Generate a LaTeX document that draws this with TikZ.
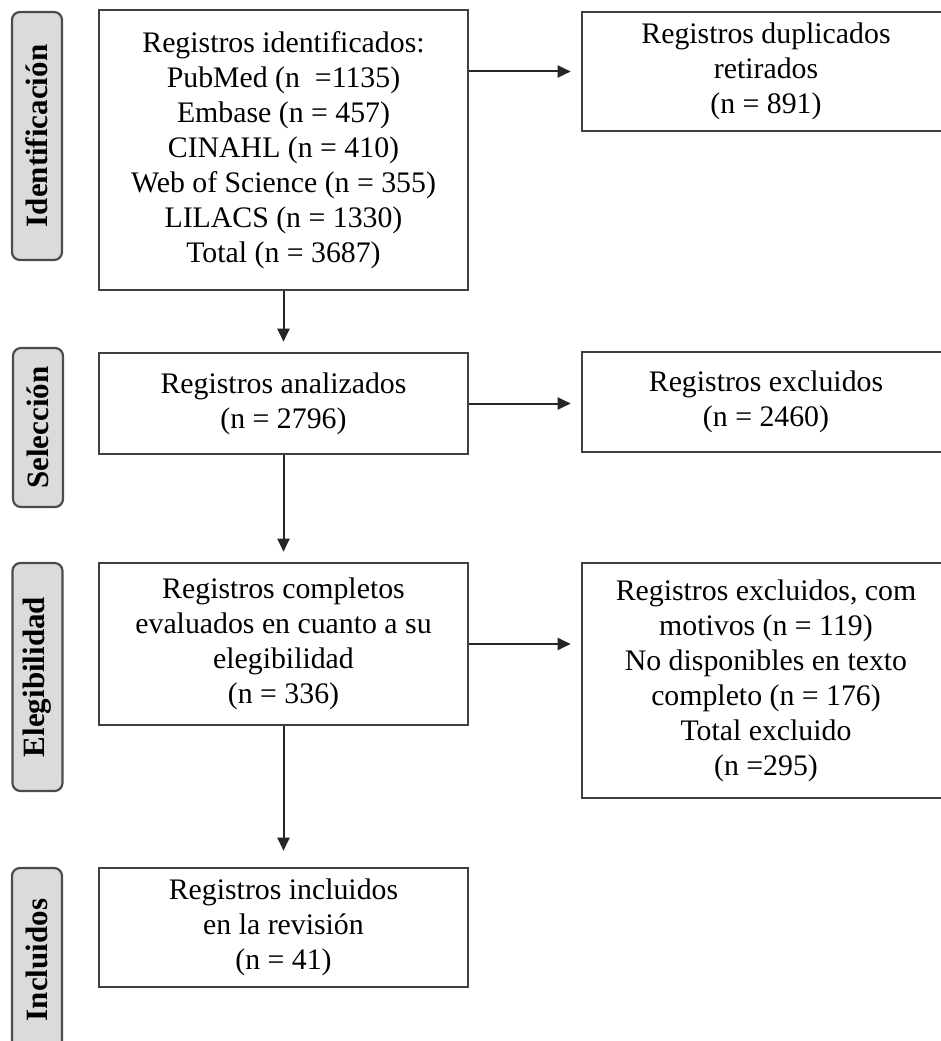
\documentclass[tikz,border=0pt]{standalone}
\usepackage{fontspec}
\setmainfont{Liberation Serif}
\usetikzlibrary{arrows.meta}

\begin{document}
\begin{tikzpicture}[x=1pt, y=-1pt, >={Triangle[length=13pt,width=12pt]},
  caja/.style={draw=black!75, line width=2.6pt, fill=white, inner sep=0pt, align=center, font=\fontsize{29.8}{35}\selectfont},
  fase/.style={draw=black!70, line width=2.2pt, fill=black!14, rounded corners=8pt, rotate=90, minimum height=50pt, inner sep=0pt, font=\fontsize{31}{34}\selectfont\bfseries},
  flecha/.style={->, line width=2pt, draw=black!85, shorten >=10pt}]

\useasboundingbox (0,0) rectangle (941,1041);
\clip (0,0) rectangle (941,1041);

% fases
\node[fase, minimum width=248pt] (fIdent) at (37,136) {Identificación};
\node[fase, minimum width=159pt] (fSel) at (38,427.5) {Selección};
\node[fase, minimum width=228pt] (fEleg) at (37.5,677) {Elegibilidad};
\node[fase, minimum width=184pt] (fIncl) at (37,960) {Incluidos};

% cajas izquierda
\node[caja, minimum width=369pt, minimum height=280pt] (ident) at (283.5,150) {Registros identificados:\\PubMed (n~~=1135)\\Embase (n = 457)\\CINAHL (n = 410)\\Web of Science (n = 355)\\LILACS (n = 1330)\\Total (n = 3687)};
\node[caja, minimum width=369pt, minimum height=101pt] (analiz) at (283.5,403.5) {Registros analizados\\(n = 2796)};
\node[caja, minimum width=369pt, minimum height=162pt] (complet) at (283.5,644) {Registros completos\\evaluados en cuanto a su\\elegibilidad\\(n = 336)};
\node[caja, minimum width=369pt, minimum height=119pt] (incl) at (283.5,927.5) {Registros incluidos\\en la revisión\\(n = 41)};

% cajas derecha
\node[caja, minimum width=368pt, minimum height=119pt] (dupl) at (766,71.5) {Registros duplicados\\retirados\\(n = 891)};
\node[caja, minimum width=368pt, minimum height=100pt] (excl) at (766,402) {Registros excluidos\\(n = 2460)};
\node[caja, minimum width=368pt, minimum height=235pt] (exclmot) at (766,680.5) {Registros excluidos, com\\motivos (n = 119)\\No disponibles en texto\\completo (n = 176)\\Total excluido\\(n =295)};

% flechas
\draw[flecha] (ident.east |- dupl.west) -- (dupl.west);
\draw[flecha] (ident.south) -- (analiz.north);
\draw[flecha] (analiz.east) -- (analiz.east -| excl.west);
\draw[flecha] (analiz.south) -- (complet.north);
\draw[flecha] (complet.east) -- (complet.east -| exclmot.west);
\draw[flecha, shorten >=16pt] (complet.south) -- (incl.north);

\end{tikzpicture}
\end{document}
